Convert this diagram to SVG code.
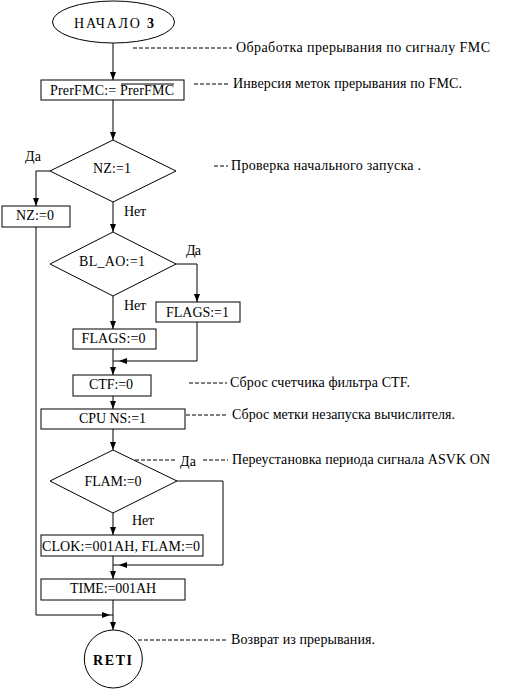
<svg xmlns="http://www.w3.org/2000/svg" width="506" height="689" viewBox="0 0 506 689">
<style>
.s{fill:none;stroke:#000;stroke-width:1}
.b{fill:#fff;stroke:#000;stroke-width:1}
.t{font-family:"Liberation Serif","DejaVu Serif",serif;font-size:14px;fill:#000;text-anchor:middle}
.l{font-family:"Liberation Serif","DejaVu Serif",serif;font-size:14px;fill:#000}
.a{font-family:"Liberation Serif","DejaVu Serif",serif;font-size:14px;fill:#000}
.d{fill:none;stroke:#000;stroke-width:1;stroke-dasharray:4,2}
</style>
<defs>
<marker id="ar" markerUnits="userSpaceOnUse" viewBox="0 0 8 6" refX="8" refY="3" markerWidth="8" markerHeight="6" orient="auto">
<path d="M0,0 L8,3 L0,6 z" fill="#000"/>
</marker>
</defs>
<rect width="506" height="689" fill="#fff"/>
<g id="connectors">
<path class="s" d="M113,43 V80" marker-end="url(#ar)"/>
<path class="s" d="M113,100 V140" marker-end="url(#ar)"/>
<path class="s" d="M50,171 H36 V206" marker-end="url(#ar)"/>
<path class="s" d="M113,202 V232" marker-end="url(#ar)"/>
<path class="s" d="M176,264 H197 V302" marker-end="url(#ar)"/>
<path class="s" d="M113,296 V329" marker-end="url(#ar)"/>
<path class="s" d="M113,349 V375" marker-end="url(#ar)"/>
<path class="s" d="M197,322 V361 H119" marker-end="url(#ar)"/>
<path class="s" d="M119,361 H113"/>
<path class="s" d="M113,396 V409" marker-end="url(#ar)"/>
<path class="s" d="M113,429 V450" marker-end="url(#ar)"/>
<path class="s" d="M113,513 V535" marker-end="url(#ar)"/>
<path class="s" d="M177,481 H223 V565 H119" marker-end="url(#ar)"/>
<path class="s" d="M119,565 H113"/>
<path class="s" d="M113,556 V579" marker-end="url(#ar)"/>
<path class="s" d="M113,600 V630" marker-end="url(#ar)"/>
<path class="s" d="M36,227 V615 H110" marker-end="url(#ar)"/>
<path class="s" d="M110,615 H113"/>
</g>
<g id="start">
<ellipse class="b" cx="113.5" cy="22" rx="61" ry="21"/>
<text class="t" x="114" y="28" font-size="16" textLength="80">НАЧАЛО <tspan font-weight="bold">3</tspan></text>
</g>
<g id="prerfmc">
<rect class="b" x="41" y="80" width="143" height="20"/>
<text class="t" x="112" y="95" textLength="124">PrerFMC:= PrerFMC</text>
<line class="s" x1="121" y1="84" x2="174" y2="84"/>
</g>
<g id="nz1">
<path class="b" d="M113,140 L176,171 L113,202 L50,171 Z"/>
<text class="t" x="112" y="173" textLength="38">NZ:=1</text>
</g>
<g id="nz0">
<rect class="b" x="2" y="206" width="68" height="21"/>
<text class="t" x="35" y="220" textLength="38">NZ:=0</text>
</g>
<g id="blao">
<path class="b" d="M113,232 L176,264 L113,296 L50,264 Z"/>
<text class="t" x="112" y="266" textLength="66">BL_AO:=1</text>
</g>
<g id="flags1">
<rect class="b" x="156" y="302" width="84" height="20"/>
<text class="t" x="197.5" y="316.5" textLength="63">FLAGS:=1</text>
</g>
<g id="flags0">
<rect class="b" x="73" y="329" width="83" height="20"/>
<text class="t" x="113.5" y="343" textLength="64">FLAGS:=0</text>
</g>
<g id="ctf">
<rect class="b" x="73" y="375" width="78" height="21"/>
<text class="t" x="111" y="389" textLength="44">CTF:=0</text>
</g>
<g id="cpuns">
<rect class="b" x="41" y="409" width="144" height="20"/>
<text class="t" x="112.5" y="423" textLength="67">CPU NS:=1</text>
</g>
<g id="flam">
<path class="b" d="M113,450 L177,481 L113,513 L50,481 Z"/>
<text class="t" x="113" y="486" textLength="57">FLAM:=0</text>
</g>
<g id="clok">
<rect class="b" x="41" y="535" width="162" height="21" stroke-width="1.6"/>
<text class="t" x="121" y="550.5" textLength="158">CLOK:=001AH, FLAM:=0</text>
</g>
<g id="time">
<rect class="b" x="41" y="579" width="144" height="21"/>
<text class="t" x="113" y="593" textLength="86">TIME:=001AH</text>
</g>
<g id="reti">
<circle class="b" cx="113.3" cy="659" r="29"/>
<text class="t" x="112.5" y="665" font-size="18" font-weight="bold" textLength="39">RETI</text>
</g>
<g id="labels">
<text class="l" x="25" y="161" textLength="16">Да</text>
<text class="l" x="124" y="216" textLength="22">Нет</text>
<text class="l" x="186" y="255" textLength="15">Да</text>
<text class="l" x="124" y="310" textLength="22">Нет</text>
<text class="l" x="180" y="466" textLength="16">Да</text>
<text class="l" x="132" y="525" textLength="22">Нет</text>
</g>
<g id="annotations">
<line class="d" x1="133" y1="48" x2="232" y2="48"/>
<text class="a" x="236" y="52" textLength="254">Обработка прерывания по сигналу FMC</text>
<line class="d" x1="194" y1="84" x2="229" y2="84"/>
<text class="a" x="233" y="88" textLength="229">Инверсия меток прерывания по FMC.</text>
<line class="d" x1="214" y1="166" x2="228" y2="166"/>
<text class="a" x="231" y="170" textLength="190">Проверка  начального запуска .</text>
<line class="d" x1="189" y1="383" x2="227" y2="383"/>
<text class="a" x="230" y="387" textLength="180">Сброс счетчика фильтра CTF.</text>
<line class="d" x1="186" y1="415" x2="227" y2="415"/>
<text class="a" x="232" y="419" textLength="223">Сброс метки незапуска вычислителя.</text>
<line class="d" x1="135" y1="460" x2="175" y2="460"/>
<line class="d" x1="203" y1="460" x2="228" y2="460"/>
<text class="a" x="232" y="464" textLength="258">Переустановка периода сигнала ASVK ON</text>
<line class="d" x1="138" y1="640" x2="227" y2="640"/>
<text class="a" x="231" y="644" textLength="144">Возврат из прерывания.</text>
</g>
</svg>
